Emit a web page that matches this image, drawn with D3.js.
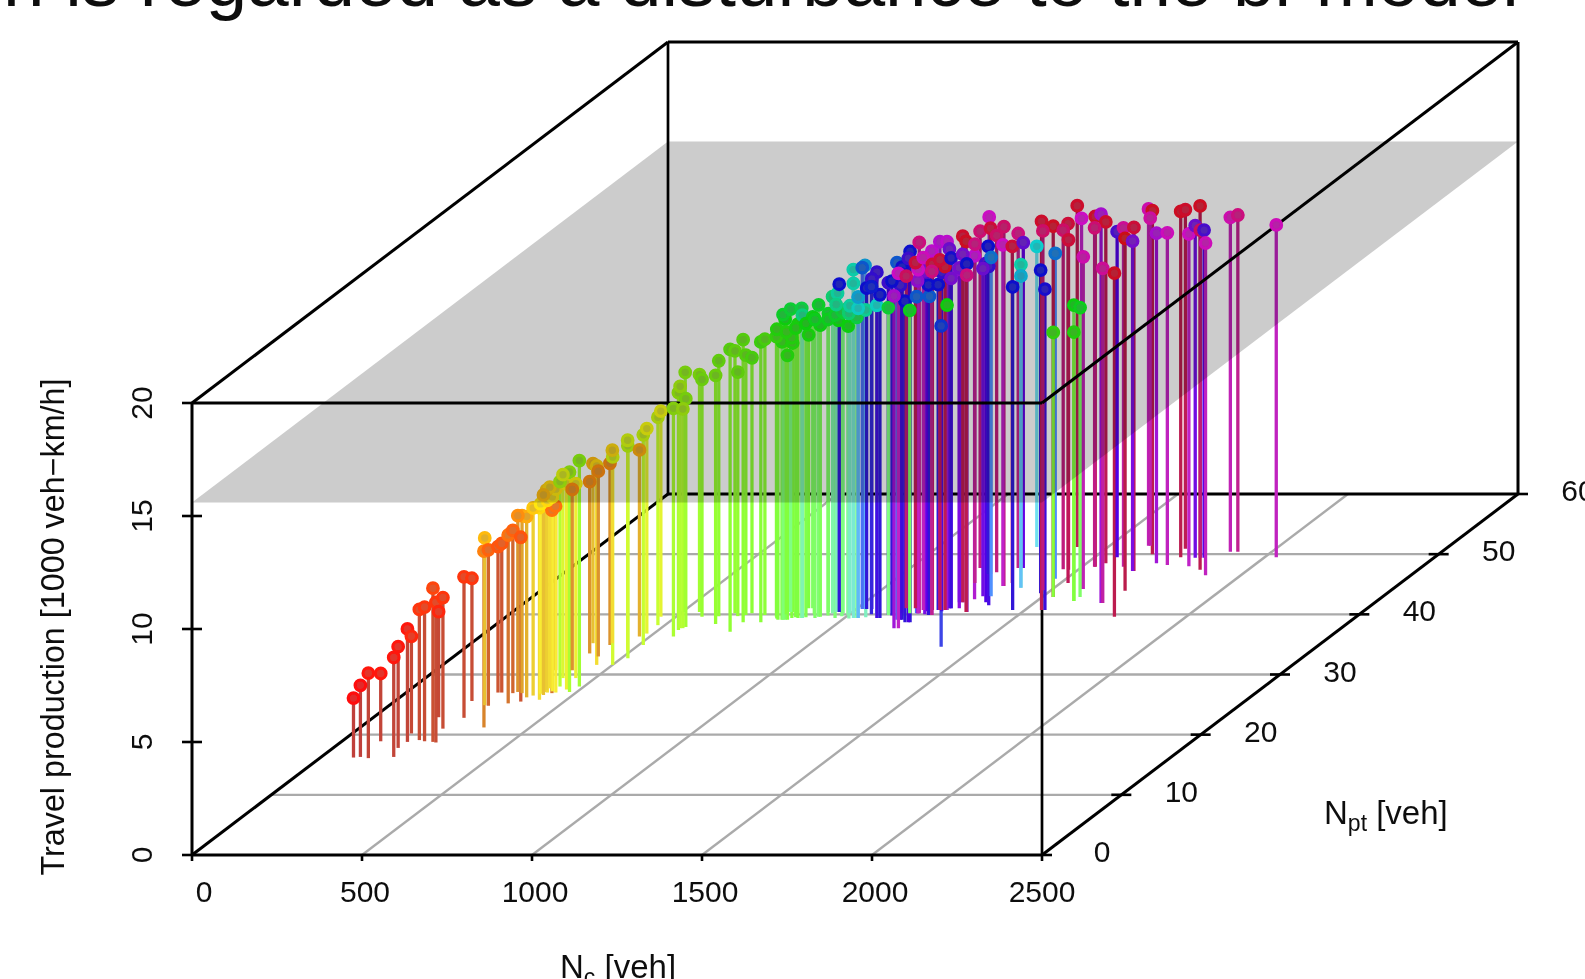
<!DOCTYPE html>
<html><head><meta charset="utf-8">
<style>html,body{margin:0;padding:0;background:#fff;overflow:hidden}svg{display:block}text{font-family:"Liberation Sans",Arial,sans-serif;fill:#111}</style>
<script src="https://cdn.jsdelivr.net/npm/d3@7/dist/d3.min.js"></script>
</head><body>
<svg id="c" width="1585" height="979"></svg>
<script>
const titleText = "n is regarded as a disturbance to the bi-model";
const ncTicks = [0,500,1000,1500,2000,2500];
const nptTicks = [0,10,20,30,40,50,60];
const tpTicks = [0,5,10,15,20];
const planeLevel = 15.6;

const carCount = [
 97,115,143,114,213,191,195,174,223,243,270,281,248,191,268,226,
 364,280,293,270,281,342,316,372,343,373,326,420,410,431,353,
 385,400,415,425,440,460,
 403,406,413,429,478,405,486,443,402,388,358,453,425,415,500,415,519,488,469,513,479,479,455,569,558,556,568,564,
 508,550,576,644,623,717,659,718,698,679,709,770,754,811,823,839,824,845,863,857,832,826,818,874,876,869,919,924,929,959,977,992,1036,
 795,803,815,854,884,897,913,942,972,985,1001,1015,1060,
 946,956,952,1007,1026,997,1040,1040,1083,1025,
 961,1017,1095,1030,1045,1104,1117,1161,1176,1209,1204,1194,1193,1238,1235,1245,1396,1171,1117,1173,1271,
 1065,1130,1150,1215,1222,1260,1300,1310,1355,1375,
 1185,1201,1198,1196,1198,1144,1171,1245,1250,1271,1201,1228,1245,1265,1250,1276,1271,1276,1277,1287,1336,1336,1287,1334,1248,1205,1255,1259,1270,1345,1252,1347,1323,1342,1358,1317,1332,1464,1402,1402,1290,1481,1559,1468,
 1409,1585,1590,1549,1532,1522,1454,1472,1476,1609,1611,1532,1609,1539,1696,1556,1537,1701,1789,1566,1622,1669,1720,1665,1614,1658,1619,1705,1744,1753,1734,1859,1812,1798,1813,1824,1896,1878,1900,2034
];
const busCount = [
 16.2,16.3,16.1,18.9,16.3,17.8,18.8,20.2,19.1,18.9,18.8,18.7,21,22.9,22.8,25.6,
 21.2,24.9,24.8,27,27,25.2,26.9,25.5,26.9,26.2,27.1,25.8,27.1,26.9,30.7,
 26.5,26.8,27,27.2,27,27.5,
 27.4,27.7,26.6,28,27.1,29.4,28,29.4,30.7,33.5,35.2,31.6,33,34.9,31.6,35.2,32.7,34,36.3,34.9,36.8,38.2,39.6,36.3,37.4,37.7,37.9,37.7,
 40.4,40.4,39.6,38.4,39.7,37.1,40.2,38.7,39.9,39.7,40.2,38.7,39.9,39.1,39.1,39.1,40.4,39.4,39.4,41,39.1,39.1,40.4,39.4,39.4,41,39.6,39.6,40.4,40.4,40.2,40.2,39.4,
 39.6,39.3,40,39.5,39.5,40,39.4,39.8,39.4,39.7,39.8,39.3,39.5,
 40.2,40.4,40.4,40.2,39.4,40.2,39.4,39.4,39.9,40.9,
 40.4,40.9,39.4,40.9,40.9,39.4,39.9,39.1,39.1,38.7,38.7,38.7,40.2,39.9,39.9,40.7,34.6,39.1,39.9,40.2,40.7,
 40,39.8,40.2,40.5,40,40.5,41,42.5,42,41.5,
 37.7,40.2,37.7,40.2,40.2,41,41,39.9,40.7,40.7,40.7,40.7,39.9,40.7,40.7,41,41,41,42,42,40.4,40.4,42,40.4,45.2,47.7,46.7,46.7,47,44.7,46.7,43,43,44.7,45.2,47.7,47.7,40.7,44.4,44.4,51.2,43.5,40.7,45.9,
 51.2,44.2,44.2,40.7,42.9,45.2,47.5,47.4,44,42.2,42.9,42.9,42.2,47.9,41.9,48.5,47.9,41.9,39.6,49.5,47.9,47.2,43.9,47.2,51.4,50,51.4,48.5,48.2,49.5,50.9,47.4,48,49.4,49.4,49.4,46.5,50.4,50.4,49.5
];
const travelProduction = [
 2.63,3.17,3.76,3,4.4,4.48,5,4.3,5.78,5.94,6.8,6.2,5.8,4.67,6.24,5.43,
 7.8,7.4,6.9,6.46,6.6,7.45,7.2,7.27,7.85,8,7.8,8.5,8.4,8.1,7.26,
 8.3,8.4,8.5,8.6,9,9.1,
 8.85,8.9,8.85,9.07,9.73,9,10,8.6,8,7.6,7.95,8.8,8.2,8.04,9.2,8.54,9.4,9.3,8.26,9.3,9.07,9.2,9.1,10.1,10.5,10.7,10.1,9.7,
 10.6,10.5,10.5,11,11.3,12.5,11.6,12.5,11.5,10.8,11.3,12.4,12.2,12.7,12.3,11.7,11.9,12.4,13,12.1,13.3,13.5,13.4,13.7,13.4,12.9,13.8,12.9,13.2,12.9,13.3,12.7,13.3,
 12.4,12.8,12.5,12.8,13,13.1,13.2,13.1,13.4,13.5,13.6,13.5,13.6,
 14,14.1,13.6,15.2,14.8,13.6,13.7,14.2,13.7,15.2,
 14.5,15.1,15.3,14.2,14.6,14.3,14.7,15.8,15.6,16.4,16.1,14.2,14,14.1,14.6,14.4,14.2,14.8,13.6,13.4,13.5,
 14.5,14.8,15,15,15.2,15,15,15.2,15,15,
 14.7,16.4,15.7,14.7,15.2,14.7,15.3,16.1,16.3,16.3,15.6,15.3,15.2,15.2,15.5,14.6,15.9,15.5,14.8,15.4,15.4,14.9,16.2,16.4,15,14.9,15.8,15.3,14.9,15.9,14.5,15,14.5,15.1,14.9,14.8,14.4,14.3,14.3,13.8,13.3,14.3,14.2,14.4,
 15.1,16.4,14.7,17.2,16.4,15.9,15,14.6,15.9,13.1,12.8,11.7,11.9,15.5,17.2,15.1,15,14.8,15.2,14.4,15,15.2,15.6,14.6,14.9,15.2,14.5,14.6,14.7,15.3,15,16.1,14.7,14.7,14.5,14.5,14.7,14.8,14.9,14.7
];
const cyclePhase = [
 0,0,1,1,1,1,1,2,3,3,4,3,3,2,3,3,
 8,12,6,5,5,7,6,5,10,11,9,14,13,7,7,
 13,15,14,15,15,16,
 13,14,12,22,23,18,24,16,9,9,12,14,9,9,19,14,21,19,11,20,17,20,17,23,23,22,24,22,
 24,24,25,25,26,27,26,27,27,26,28,29,28,31,31,31,31,31,32,32,34,36,37,38,43,35,36,34,36,34,37,34,38,
 30,31,31,32,33,34,35,35,36,37,40,42,45,
 42,46,44,47,47,46,49,54,49,55,
 66,60,70,66,70,66,71,60,66,66,71,66,60,60,66,66,63,70,37,35,33,
 65,66,68,72,76,70,78,82,72,70,
 80,90,84,78,84,93,96,82,81,82,85,96,90,97,96,76,75,68,76,76,67,90,97,98,90,91,84,96,92,92,67,58,75,84,96,90,74,66,47,53,50,66,68,58,
 97,84,86,97,98,96,92,96,92,34,35,30,31,97,80,97,91,88,98,72,88,96,99,76,86,98,87,80,85,98,97,98,84,75,93,72,85,86,90,85
];
const stemStops = [0,5,8,12,15,20,25,32,38,45,50,58,66,72,78,84,90,96,100];
const stemColours = ["#c0403a","#cc5530","#d8842c","#e8c030","#f8ec30","#c8ff30","#98ff30","#80ff40","#80ff90","#80f0c0","#70e0f0","#5090ff","#3018d8","#5000e8","#9010e0","#c020c8","#c02090","#c01858","#b82048"];

const ox = 192, oy = 855;
const xS = d3.scaleLinear().domain([0,2500]).range([0,850]);
const dX = d3.scaleLinear().domain([0,60]).range([0,476]);
const dY = d3.scaleLinear().domain([0,60]).range([0,361]);
const zS = d3.scaleLinear().domain([0,20]).range([0,452]);
const px = (nc,npt) => ox + xS(nc) + dX(npt);
const py = (npt,z) => oy - zS(z) - dY(npt);
const stemColor = d3.scaleLinear().domain(stemStops).range(stemColours).interpolate(d3.interpolateRgb);
const hue = d3.scaleLinear().domain([0,100]).range([0,360]);
const dotColor = p => d3.hsl(hue(p),1,.52).formatRgb();
const dotCore = p => d3.interpolateRgb(d3.hsl(hue(p),1,.5).formatRgb(),"#999")(.28);

const points = carCount.map((c,i)=>({c,b:busCount[i],t:travelProduction[i],p:cyclePhase[i]}));

const svg = d3.select("#c");
const defs = svg.append("defs");
defs.append("filter").attr("id","soft").attr("x",0).attr("y",0).attr("width",1).attr("height",1)
  .attr("filterUnits","objectBoundingBox")
  .append("feGaussianBlur").attr("stdDeviation",.5);
const g = svg.append("g").attr("filter","url(#soft)").style("isolation","isolate");
g.append("rect").attr("width",1585).attr("height",979).attr("fill","#fff");

const seg = (gg,x1,y1,x2,y2,col,w) => gg.append("line").attr("x1",x1).attr("y1",y1).attr("x2",x2).attr("y2",y2).attr("stroke",col).attr("stroke-width",w);

// floor grid
const grid = g.append("g");
ncTicks.slice(1,-1).forEach(n=>seg(grid,px(n,0),py(0,0),px(n,60),py(60,0),"#aaa",2.4));
nptTicks.slice(1,-1).forEach(n=>seg(grid,px(0,n),py(n,0),px(2500,n),py(n,0),"#aaa",2.4));

// back / floor lines sit under the stems
const under = g.append("g");
seg(under,px(0,0),py(0,0),px(0,60),py(60,0),"#000",3);
seg(under,px(0,60),py(60,0),px(2500,60),py(60,0),"#000",3);
seg(under,px(2500,0),py(0,0),px(2500,0),py(0,20),"#000",2.7);
seg(under,px(0,60),py(60,0),px(0,60),py(60,20),"#000",2.7);

// stems
g.append("g").selectAll("line").data(points).join("line")
  .attr("x1",d=>px(d.c,d.b)).attr("x2",d=>px(d.c,d.b))
  .attr("y1",d=>py(d.b,0)).attr("y2",d=>py(d.b,d.t))
  .attr("stroke",d=>stemColor(d.p)).attr("stroke-width",3.3);

// box
const box = g.append("g");
seg(box,px(0,0),py(0,0),px(2500,0),py(0,0),"#000",3);
seg(box,px(0,0),py(0,0),px(0,0),py(0,20),"#000",3);
seg(box,px(0,0),py(0,20),px(2500,0),py(0,20),"#000",3);
seg(box,px(0,0),py(0,20),px(0,60),py(60,20),"#000",3);
seg(box,px(2500,0),py(0,20),px(2500,60),py(60,20),"#000",3);
seg(box,px(0,60),py(60,20),px(2500,60),py(60,20),"#000",3);
seg(box,px(2500,60),py(60,0),px(2500,60),py(60,20),"#000",3);
seg(box,px(2500,0),py(0,0),px(2500,60),py(60,0),"#000",3);

// dots
const dots = g.append("g");
dots.selectAll("circle").data(points).join("circle")
  .attr("cx",d=>px(d.c,d.b)).attr("cy",d=>py(d.b,d.t)).attr("r",5.3)
  .attr("fill",d=>dotCore(d.p)).attr("stroke",d=>dotColor(d.p)).attr("stroke-width",3.2);

// regime plane
const plane = [[0,0],[2500,0],[2500,60],[0,60]].map(([c,b])=>[px(c,b),py(b,planeLevel)]);
g.append("path").attr("d",d3.line()(plane)+"Z").attr("fill","#cccccc").style("mix-blend-mode","multiply");

// ticks + labels
const ticks = g.append("g");
ncTicks.forEach(n=>seg(ticks,px(n,0),oy,px(n,0),oy+6,"#000",2.6));
tpTicks.forEach(n=>seg(ticks,ox-10,py(0,n),ox+10*(n>0&&n<20?1:0),py(0,n),"#000",2.6));
nptTicks.forEach(n=>seg(ticks,px(2500,n)-((n>0&&n<60)?10:0),py(n,0),px(2500,n)+10,py(n,0),"#000",2.6));

const labels = g.append("g").attr("font-size",30);
labels.selectAll(".xl").data(ncTicks).join("text").attr("class","xl")
  .attr("x",d=>px(d,0)+ (d===0?12:d===2500?0:3)).attr("y",901.5).attr("text-anchor","middle").text(d=>d);
labels.selectAll(".yl").data(nptTicks).join("text").attr("class","yl")
  .attr("x",d=>px(2500,d)+60).attr("y",d=>py(d,0)+7).attr("text-anchor","middle").text(d=>d);
labels.selectAll(".zl").data(tpTicks).join("text").attr("class","zl")
  .attr("transform",d=>`translate(152,${py(0,d)}) rotate(-90)`).attr("text-anchor","middle").text(d=>d);

g.append("text").attr("font-size",32.3).attr("text-anchor","middle")
  .attr("transform","translate(64,627) rotate(-90)").text("Travel production [1000 veh\u2212km/h]");

const sub = (x,y,main,s,rest) => {
  const t = g.append("text").attr("x",x).attr("y",y).attr("font-size",33);
  t.append("tspan").text(main);
  t.append("tspan").attr("font-size",23).attr("dy",7).text(s);
  t.append("tspan").attr("dy",-7).text(" "+rest);
};
sub(560,978,"N","c","[veh]");
sub(1324,824,"N","pt","[veh]");

g.append("text").attr("x",3).attr("y",5.5).attr("font-size",74.5).text(titleText);
</script>
</body></html>
